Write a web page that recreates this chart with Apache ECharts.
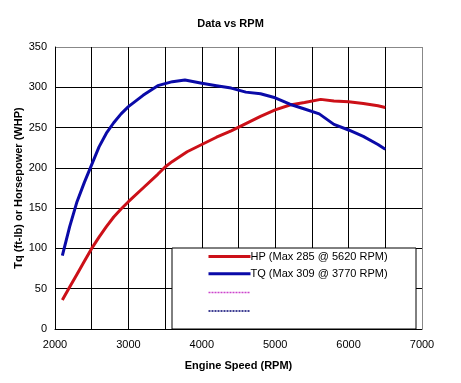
<!DOCTYPE html>
<html><head><meta charset="utf-8">
<script src="https://cdn.jsdelivr.net/npm/echarts@6/dist/echarts.min.js"></script>
<style>html,body{margin:0;padding:0;background:#fff}#c{width:461px;height:383px}</style>
</head><body><div id="c"></div>
<script>
var titleText = 'Data vs RPM';
var xName = 'Engine Speed (RPM)';
var yName = 'Tq (ft-lb) or Horsepower (WHP)';
var hpName = 'HP (Max 285 @ 5620 RPM)';
var tqName = 'TQ (Max 309 @ 3770 RPM)';
var hpRpm = [2100,2200,2300,2400,2500,2600,2700,2800,2900,3000,3200,3400,3500,3600,3800,4000,4200,4400,4600,4800,5000,5200,5400,5620,5800,6000,6200,6400,6500];
var hpVal = [36,52,68,84,100,114,127,139,149,158,175,192,201,208,220,229,238,246,255,264,272,278,281,285,283,282,280,277,275];
var tqRpm = [2100,2200,2300,2400,2500,2600,2700,2800,2900,3000,3200,3400,3600,3770,4000,4200,4400,4600,4800,5000,5200,5400,5600,5800,6000,6200,6400,6500];
var tqVal = [91,127,158,182,204,226,243,256,267,276,290,302,307,309,305,302,299,294,292,287,279,273,267,254,247,239,229,223];

function pairs(xs, ys){ return xs.map(function(x,i){ return [x, ys[i]]; }); }

var chart = echarts.init(document.getElementById('c'), null, {renderer:'canvas'});
var xLineColors = []; for (var i=0;i<10;i++) xLineColors.push('#000'); xLineColors.push('#888');
var yLineColors = []; for (var j=0;j<7;j++) yLineColors.push('#000'); yLineColors.push('#888');
chart.setOption({
  animation:false,
  backgroundColor:'#fff',
  textStyle:{fontFamily:'Liberation Sans, Arial, sans-serif'},
  title:{text:titleText,left:'center',top:13,textStyle:{fontSize:11,fontWeight:'bold',color:'#000',fontFamily:'Liberation Sans, Arial, sans-serif'}},
  grid:{left:55,right:39,top:47,bottom:54},
  xAxis:{type:'value',min:2000,max:7000,interval:500,
    name:xName,nameLocation:'middle',nameGap:31,nameMoveOverlap:false,
    nameTextStyle:{fontSize:11,fontWeight:'bold',color:'#000'},
    axisLine:{show:true,lineStyle:{color:'#000',width:1}},
    axisTick:{show:false},
    axisLabel:{color:'#000',fontSize:11,margin:10,formatter:function(v){return v%1000===0?String(v):'';}},
    splitLine:{show:true,lineStyle:{color:xLineColors,width:1}}},
  yAxis:{type:'value',min:0,max:350,interval:50,
    name:yName,nameLocation:'middle',nameGap:31,nameMoveOverlap:false,
    nameTextStyle:{fontSize:11,fontWeight:'bold',color:'#000'},
    axisLine:{show:true,lineStyle:{color:'#000',width:1}},
    axisTick:{show:false},
    axisLabel:{color:'#000',fontSize:11,margin:8},
    splitLine:{show:true,lineStyle:{color:yLineColors,width:1}}},
  graphic:[{type:'rect',shape:{x:172,y:248,width:244,height:81},style:{fill:'#fff',stroke:'#000',lineWidth:1},z:50}],
  legend:{orient:'vertical',left:207,top:251,padding:0,itemWidth:42,itemHeight:14,itemGap:6,z:60,
    itemStyle:{opacity:0},
    textStyle:{fontSize:11,color:'#000',padding:[0,0,0,-5]},
    data:[{name:hpName,lineStyle:{width:3}},{name:tqName,lineStyle:{width:3}},{name:'\u200b',lineStyle:{width:1.5}},{name:'\u200b\u200b',lineStyle:{width:1.5}}],
    formatter:function(n){return n.indexOf('\u200b')===0?'':n;}},
  series:[
    {name:hpName,type:'line',data:pairs(hpRpm,hpVal),symbol:'none',smooth:false,lineStyle:{color:'#cc1018',width:3},itemStyle:{color:'#cc1018'},z:10},
    {name:tqName,type:'line',data:pairs(tqRpm,tqVal),symbol:'none',smooth:false,lineStyle:{color:'#0a0aa8',width:3},itemStyle:{color:'#0a0aa8'},z:11},
    {name:'\u200b',type:'line',data:[],symbol:'none',lineStyle:{color:'#cc44cc',width:1.5,type:[2,1]},itemStyle:{color:'#cc44cc'}},
    {name:'\u200b\u200b',type:'line',data:[],symbol:'none',lineStyle:{color:'#000070',width:1.5,type:[2,1]},itemStyle:{color:'#000070'}}
  ]
});
</script></body></html>
